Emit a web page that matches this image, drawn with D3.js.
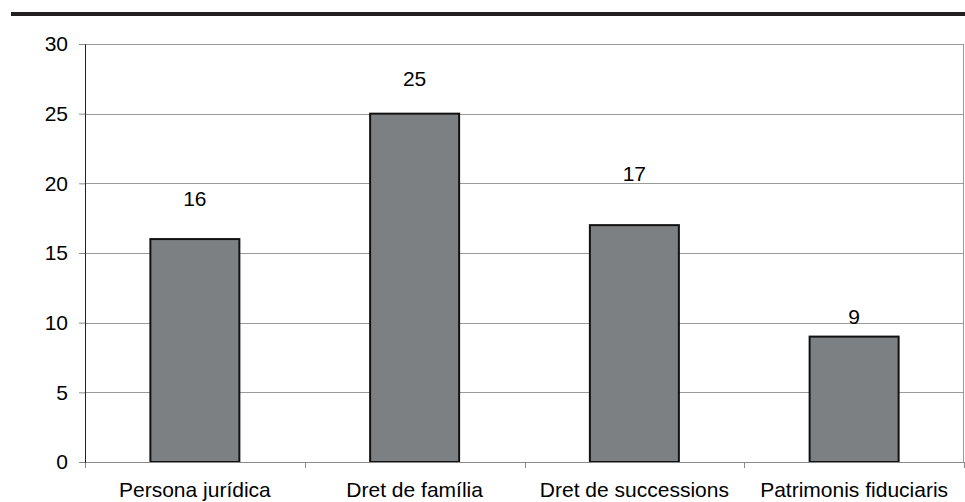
<!DOCTYPE html>
<html>
<head>
<meta charset="utf-8">
<script src="https://cdn.jsdelivr.net/npm/d3@7"></script>
<style>
  body { margin: 0; background: #fff; }
  text { font-family: "Liberation Sans", Arial, sans-serif; fill: #000; }
</style>
</head>
<body>
<div id="chart"></div>
<script>
// Chart data
const categories = ["Persona jurídica", "Dret de família", "Dret de successions", "Patrimonis fiduciaris"];
const values = [16, 25, 17, 9];
const yTicks = [0, 5, 10, 15, 20, 25, 30];

// Excel puts the value labels at slightly uneven heights above the bars
const labelLift = [33, 28, 44, 13];

const W = 965, H = 502;
const margin = {top: 44, right: 1, bottom: 40, left: 85},
    width = W - margin.left - margin.right,
    height = H - margin.top - margin.bottom;

const svg = d3.select("#chart")
    .append("svg")
    .attr("width", W)
    .attr("height", H);

// Thick rule across the top
svg.append("rect")
    .attr("x", 11)
    .attr("y", 12)
    .attr("width", W - 11)
    .attr("height", 4)
    .attr("fill", "#231f20");

const g = svg.append("g")
    .attr("transform", `translate(${margin.left},${margin.top})`);

const x = d3.scaleBand()
    .domain(categories)
    .range([0, width])
    .paddingInner(0.595)
    .paddingOuter(0.2975);

const xOuter = d3.scaleBand()
    .domain(categories)
    .range([0, width]);

const y = d3.scaleLinear()
    .domain([0, 30])
    .range([height, 0]);

// Gridlines
g.selectAll(".grid")
    .data(yTicks.slice(1))
    .join("line")
    .attr("x1", 0)
    .attr("x2", width)
    .attr("y1", d => Math.round(y(d)) + 0.5)
    .attr("y2", d => Math.round(y(d)) + 0.5)
    .attr("stroke", "#9a9a9a")
    .attr("stroke-width", 1);

// Right border
g.append("line")
    .attr("x1", width - 0.5)
    .attr("x2", width - 0.5)
    .attr("y1", 0)
    .attr("y2", height)
    .attr("stroke", "#9a9a9a");

// Bars
g.selectAll(".bar")
    .data(values)
    .join("rect")
    .attr("x", (d, i) => x(categories[i]))
    .attr("y", d => y(d))
    .attr("width", x.bandwidth())
    .attr("height", d => height - y(d))
    .attr("fill", "#7d8083")
    .attr("stroke", "#111")
    .attr("stroke-width", 2);

// Value labels
g.selectAll(".val")
    .data(values)
    .join("text")
    .attr("x", (d, i) => x(categories[i]) + x.bandwidth() / 2)
    .attr("y", (d, i) => y(d) - labelLift[i])
    .attr("text-anchor", "middle")
    .style("font-size", "21px")
    .text(d => d);

// X axis (ticks at category boundaries)
const xAxis = g.append("g")
    .attr("transform", `translate(0,${height})`);
xAxis.append("line")
    .attr("x1", 0).attr("x2", width)
    .attr("y1", 0.5).attr("y2", 0.5)
    .attr("stroke", "#8a8a8a");
xAxis.selectAll(".xt")
    .data(d3.range(categories.length + 1))
    .join("line")
    .attr("x1", i => Math.round(i * xOuter.step()) + 0.5)
    .attr("x2", i => Math.round(i * xOuter.step()) + 0.5)
    .attr("y1", 0)
    .attr("y2", 6)
    .attr("stroke", "#8a8a8a");
xAxis.selectAll(".xl")
    .data(categories)
    .join("text")
    .attr("x", d => xOuter(d) + xOuter.bandwidth() / 2)
    .attr("y", 35)
    .attr("text-anchor", "middle")
    .style("font-size", "21px")
    .text(d => d);

// Y axis
const yAxis = g.append("g")
    .call(d3.axisLeft(y).tickValues(yTicks).tickSize(6).tickPadding(11));
yAxis.select(".domain").attr("stroke", "#222");
yAxis.selectAll(".tick line").attr("stroke", "#8a8a8a");
yAxis.selectAll(".tick text")
    .style("font-size", "21px")
    .style("font-family", "'Liberation Sans', Arial, sans-serif")
    .attr("fill", "#000");
</script>
</body>
</html>
